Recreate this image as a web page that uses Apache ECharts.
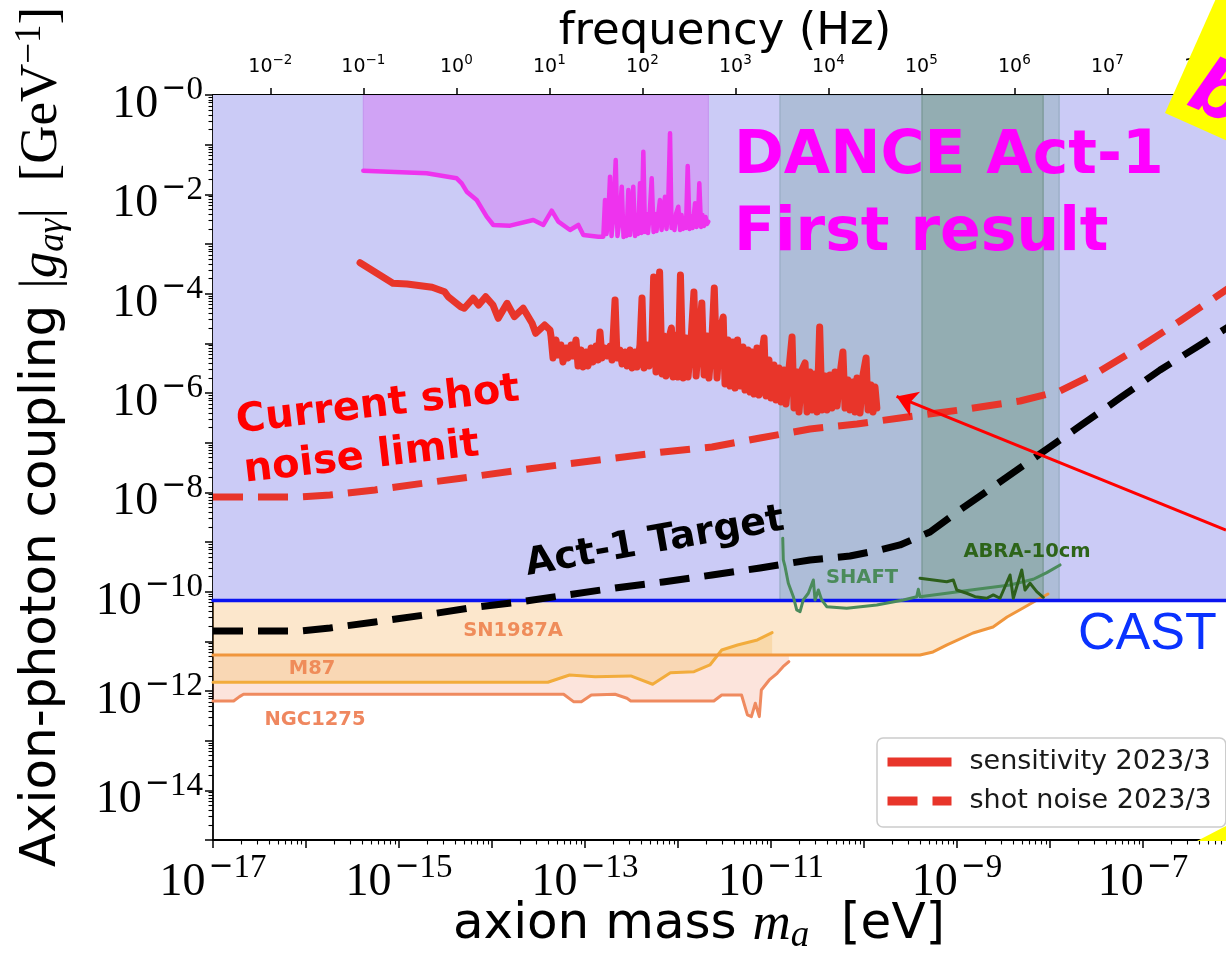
<!DOCTYPE html>
<html><head><meta charset="utf-8">
<script src="https://cdn.jsdelivr.net/npm/echarts@6/dist/echarts.min.js"></script>
<style>html,body{margin:0;padding:0;background:#fff}#c{width:1226px;height:956px}</style>
</head><body><div id="c"></div>
<script>
// ===== Data: log10(axion mass / eV) and log10(|g| / GeV^-1) =====
const X_MIN = -17, X_MAX = -6.108, Y_MIN = -15, Y_MAX = 0;
const LOG_HZ_PER_EV = 14.3835;            // log10(1 eV / h)
const freqTickExps = [-2,-1,0,1,2,3,4,5,6,7,8];

const danceLogMass = [-15.384,-14.702,-14.380,-14.326,-14.272,-14.165,-14.057,-13.986,-13.806,-13.556,-13.448,-13.358,-13.287,-13.161,-13.072,-13.018,
  -12.857,-12.803,-12.785,-12.769,-12.753,-12.731,-12.715,-12.699,-12.670,-12.651,-12.634,-12.605,-12.586,-12.570,-12.554,-12.534,-12.516,-12.500,-12.481,-12.462,
  -12.446,-12.430,-12.409,-12.392,-12.373,-12.355,-12.339,-12.323,-12.306,-12.283,-12.263,-12.247,-12.231,-12.215,-12.194,-12.177,-12.161,-12.140,-12.124,-12.108,
  -12.086,-12.070,-12.054,-12.038,-12.022,-11.997,-11.978,-11.962,-11.946,-11.930,-11.914,-11.896,-11.876,-11.860,-11.844,-11.817,-11.801,-11.785,-11.771,-11.753,
  -11.737,-11.720,-11.704,-11.688,-11.674];
const danceLogG = [-1.524,-1.576,-1.677,-1.778,-1.947,-2.114,-2.450,-2.617,-2.631,-2.517,-2.617,-2.329,-2.551,-2.718,-2.617,-2.819,
  -2.853,-2.853,-2.114,-2.798,-2.557,-1.645,-2.839,-2.517,-1.309,-2.839,-2.597,-1.846,-2.859,-2.476,-2.839,-1.913,-2.819,-2.436,-1.846,-2.839,
  -2.416,-2.798,-1.778,-2.778,-1.142,-2.758,-2.396,-2.778,-2.436,-1.677,-2.758,-2.396,-2.738,-2.436,-2.114,-2.718,-2.396,-2.048,-2.698,-2.376,
  -0.771,-2.678,-2.517,-2.718,-2.396,-2.249,-2.718,-2.416,-2.698,-2.476,-2.678,-1.429,-2.698,-2.436,-2.678,-2.180,-2.658,-2.476,-1.778,-2.658,
  -2.416,-2.637,-2.456,-2.597,-2.551];

const senseLogMass = [-15.419,-15.066,-14.913,-14.644,-14.510,-14.471,-14.337,-14.298,-14.202,-14.144,-14.068,-13.990,-13.933,-13.838,-13.760,-13.665,-13.569,-13.530,-13.434,-13.376,
  -13.366,-13.344,-13.312,-13.290,-13.258,-13.237,-13.204,-13.183,-13.151,-13.129,-13.097,-13.075,-13.043,-13.022,-12.989,-12.968,-12.935,-12.914,-12.882,-12.860,
  -12.839,-12.817,-12.785,-12.763,-12.731,-12.710,-12.677,-12.656,-12.624,-12.602,-12.570,-12.548,-12.516,-12.495,-12.462,-12.441,-12.409,-12.387,-12.366,-12.333,
  -12.312,-12.280,-12.262,-12.237,-12.198,-12.172,-12.151,-12.129,-12.097,-12.071,-12.054,-12.022,-12.000,-11.974,-11.946,-11.914,-11.892,-11.860,-11.829,-11.806,
  -11.774,-11.744,-11.720,-11.688,-11.667,-11.634,-11.610,-11.581,-11.548,-11.514,-11.495,-11.462,-11.441,-11.409,-11.387,-11.360,-11.333,-11.301,-11.280,-11.247,
  -11.226,-11.204,-11.183,-11.151,-11.129,-11.097,-11.075,-11.054,-11.022,-11.000,-10.968,-10.946,-10.914,-10.892,-10.860,-10.839,-10.806,-10.774,-10.753,-10.720,
  -10.699,-10.667,-10.634,-10.613,-10.581,-10.559,-10.527,-10.505,-10.477,-10.452,-10.419,-10.398,-10.366,-10.344,-10.312,-10.290,-10.258,-10.227,-10.204,-10.172,
  -10.151,-10.118,-10.097,-10.075,-10.043,-10.011,-9.978,-9.957,-9.925,-9.903,-9.882,-9.862];
const senseLogG = [-3.376,-3.791,-3.805,-3.872,-3.960,-4.061,-4.262,-4.294,-4.093,-4.228,-4.061,-4.228,-4.496,-4.194,-4.463,-4.294,-4.596,-4.798,-4.631,-4.731,
  -4.852,-5.295,-4.933,-5.235,-5.033,-5.375,-5.094,-5.295,-5.033,-5.255,-4.933,-5.456,-5.134,-5.476,-5.174,-5.456,-5.094,-5.375,-5.053,-5.335,
  -4.772,-5.295,-5.094,-5.255,-5.053,-5.335,-4.127,-5.295,-5.134,-5.416,-5.174,-5.456,-5.134,-5.496,-5.174,-5.476,-5.033,-4.087,-5.496,-5.033,
  -5.456,-4.933,-3.664,-5.577,-3.564,-5.617,-4.852,-5.657,-4.892,-4.691,-5.677,-4.832,-5.677,-3.624,-5.698,-4.892,-5.677,-4.933,-3.966,-5.657,
  -4.892,-4.188,-5.637,-4.852,-5.698,-4.852,-3.886,-5.698,-4.731,-4.470,-5.818,-4.933,-5.859,-4.973,-5.899,-4.933,-5.859,-5.073,-5.939,-5.134,
  -5.980,-5.174,-6.020,-5.094,-6.040,-5.174,-4.892,-6.060,-5.335,-6.100,-5.436,-6.141,-5.496,-6.181,-5.537,-6.221,-5.496,-4.872,-6.302,-5.577,
  -6.382,-5.537,-5.396,-6.382,-5.577,-6.342,-5.617,-6.382,-4.671,-6.342,-5.657,-6.342,-5.637,-6.302,-5.577,-6.261,-5.617,-5.174,-6.302,-5.738,
  -6.342,-5.778,-6.382,-5.698,-6.402,-5.637,-5.295,-6.342,-5.839,-6.382,-5.879,-6.302];

const shotLogMass = [-17,-16.065,-15.742,-15.258,-14.720,-14.237,-13.699,-13.194,-12.677,-12.161,-11.634,-11.118,-10.581,-10.075,-9.613,-8.968,-8.323,-7.892,-7.462,-7.032,-6.602,-6.108,-6.0];
const shotLogG = [-8.093,-8.093,-8.053,-7.952,-7.812,-7.691,-7.550,-7.429,-7.308,-7.187,-7.087,-6.906,-6.724,-6.624,-6.503,-6.342,-6.161,-5.959,-5.557,-5.073,-4.550,-3.926,-3.785];

const targetLogMass = [-17,-16.065,-15.742,-15.258,-14.720,-14.237,-13.699,-13.194,-12.677,-12.161,-11.634,-11.118,-10.581,-10.151,-9.828,-9.613,-9.290,-8.968,-8.538,-8.108,-7.677,-7.247,-6.817,-6.387,-6.0];
const targetLogG = [-10.791,-10.791,-10.731,-10.610,-10.469,-10.328,-10.207,-10.066,-9.926,-9.805,-9.664,-9.523,-9.362,-9.281,-9.161,-9.060,-8.798,-8.355,-7.791,-7.228,-6.664,-6.100,-5.537,-5.033,-4.570];

const castLogG = -10.18;

const sn1987aLogMass = [-17,-9.559,-9.398,-9.258,-9.108,-8.828,-8.613,-8.462,-8.290,-8.140,-8.022];
const sn1987aLogG = [-11.274,-11.274,-11.274,-11.214,-11.073,-10.832,-10.711,-10.509,-10.328,-10.167,-10.046];
const sn1987aFlatLogG = -11.274;

const m87LogMass = [-17,-13.400,-13.166,-12.892,-12.508,-12.273,-12.082,-11.828,-11.657,-11.530,-11.360,-11.147,-10.988];
const m87LogG = [-11.824,-11.824,-11.677,-11.711,-11.697,-11.864,-11.631,-11.611,-11.476,-11.174,-11.073,-10.972,-10.825];

const ngcLogMass = [-17,-16.778,-16.715,-16.672,-13.230,-13.124,-13.039,-12.932,-12.677,-12.549,-12.508,-11.615,-11.530,-11.317,-11.254,-11.211,-11.169,-11.126,-11.104,-11.019,-10.934,-10.871,-10.808];
const ngcLogG = [-12.200,-12.200,-12.114,-12.066,-12.066,-12.214,-12.214,-12.080,-12.066,-12.146,-12.200,-12.200,-12.080,-12.080,-12.482,-12.517,-12.247,-12.517,-11.979,-11.778,-11.643,-11.510,-11.409];

const shaftLogMass = [-10.874,-10.868,-10.849,-10.814,-10.760,-10.724,-10.688,-10.653,-10.599,-10.545,-10.527,-10.491,-10.455,-10.401,-10.186,-9.863,-9.577,-9.433,-9.416,-9.398,-9.111,-8.788,-8.430,-8.180,-8.035,-7.892];
const shaftLogG = [-8.925,-9.362,-9.497,-9.831,-10.101,-10.368,-10.403,-10.167,-10.032,-9.765,-10.167,-9.966,-10.167,-10.302,-10.334,-10.268,-10.167,-10.101,-9.952,-10.101,-10.032,-9.952,-9.865,-9.750,-9.617,-9.462];

const abraLogMass = [-9.398,-9.255,-9.111,-9.040,-9.003,-8.896,-8.806,-8.681,-8.610,-8.538,-8.430,-8.395,-8.304,-8.269,-8.215,-8.143,-8.072];
const abraLogG = [-9.730,-9.765,-9.799,-9.765,-9.966,-10.032,-10.101,-10.133,-10.066,-10.133,-9.664,-10.133,-9.563,-9.966,-9.831,-10.000,-10.113];

const shaftBandLogMass = [-10.903, -7.903];
const abraBandLogMass = [-9.376, -8.075];

const arrowFrom = [-6.108, -8.76];
const arrowTo = [-9.65, -6.07];

// ===== helpers =====
const pairs = (xs, ys) => xs.map((x, i) => [x, ys[i]]);
const minorOf = (k0, k1) => { const r = []; for (let k = k0; k <= k1; k++) for (let m = 2; m <= 9; m++) r.push(k + Math.log10(m)); return r; };

function polySeries(points, style) {
  return {
    type: 'custom', silent: true, clip: true, xAxisIndex: 0, yAxisIndex: 0,
    data: [[X_MIN, Y_MIN]],
    renderItem: (params, api) => ({
      type: 'polygon',
      shape: { points: points.map(p => api.coord(p)) },
      style: style
    })
  };
}
const between = (xs, ys, yConst) => pairs(xs, ys).concat(xs.slice().reverse().map(x => [x, yConst]));
const rectPts = (x0, x1, y0, y1) => [[x0, y0], [x1, y0], [x1, y1], [x0, y1]];

function lineSeries(xs, ys, color, width, extra) {
  return Object.assign({
    type: 'line', symbol: 'none', silent: true, clip: true, animation: false,
    xAxisIndex: 0, yAxisIndex: 0,
    data: pairs(xs, ys),
    lineStyle: { color: color, width: width, join: 'round', cap: 'round' }
  }, extra || {});
}

const tickRich = {
  b: { fontFamily: 'Liberation Serif', fontSize: 46, lineHeight: 54, verticalAlign: 'bottom', color: '#000' },
  m: { fontFamily: 'DejaVu Sans', fontSize: 30, lineHeight: 24, verticalAlign: 'top', color: '#000', padding: [0, 0, 0, 3] },
  s: { fontFamily: 'Liberation Serif', fontSize: 33, lineHeight: 24, verticalAlign: 'top', color: '#000' }
};
const topRich = {
  b: { fontFamily: 'DejaVu Sans', fontSize: 19, lineHeight: 24, verticalAlign: 'bottom', color: '#000' },
  s: { fontFamily: 'DejaVu Sans', fontSize: 13.5, lineHeight: 14, verticalAlign: 'top', color: '#000' }
};
const titleRich = {
  n: { fontFamily: 'DejaVu Sans', fontSize: 50, lineHeight: 60, color: '#000' },
  r: { fontFamily: 'Liberation Serif', fontSize: 53, lineHeight: 60, color: '#000' },
  i: { fontFamily: 'Liberation Serif', fontStyle: 'italic', fontSize: 53, lineHeight: 60, color: '#000' },
  sub: { fontFamily: 'Liberation Serif', fontStyle: 'italic', fontSize: 37, lineHeight: 24, verticalAlign: 'bottom', color: '#000' },
  sup: { fontFamily: 'Liberation Serif', fontSize: 37, lineHeight: 24, verticalAlign: 'top', color: '#000' }
};
const tickLabel = k => '{b|10}{m|\u2212}{s|' + Math.abs(k) + '}';

const axisBlack = { color: '#000', width: 1.8 };
const chart = echarts.init(document.getElementById('c'), null, { renderer: 'canvas' });
const RED = '#e8352a';

chart.setOption({
  animation: false,
  backgroundColor: '#ffffff',
  textStyle: { fontFamily: 'DejaVu Sans' },
  grid: { left: 213, top: 95, right: 0, bottom: 116, containLabel: false },
  xAxis: [
    { type: 'value', position: 'bottom', min: X_MIN, max: X_MAX, interval: 1,
      axisLine: { onZero: false, lineStyle: axisBlack },
      axisTick: { length: 8, lineStyle: { color: '#000', width: 1.5 } },
      splitLine: { show: false },
      axisLabel: { margin: 12, rich: tickRich, showMaxLabel: false,
        formatter: v => { const k = Math.round(v); return (Math.abs(v - k) < 1e-6 && (k - X_MIN) % 2 === 0) ? tickLabel(k) : ''; } } },
    { type: 'value', position: 'top', min: X_MIN + LOG_HZ_PER_EV, max: X_MAX + LOG_HZ_PER_EV,
      axisLine: { onZero: false, lineStyle: axisBlack },
      axisTick: { length: 7, customValues: freqTickExps, lineStyle: { color: '#000', width: 1.5 } },
      splitLine: { show: false },
      axisLabel: { margin: 18, customValues: freqTickExps, rich: topRich,
        formatter: v => { const k = Math.round(v); return '{b|10}{s|' + (k < 0 ? '\u2212' + (-k) : k) + '}'; } } },
    { type: 'value', position: 'bottom', min: X_MIN, max: X_MAX,
      axisLine: { show: false, onZero: false },
      axisTick: { length: 4.5, customValues: minorOf(-17, -7), lineStyle: { color: '#000', width: 1.1 } },
      axisLabel: { show: false }, splitLine: { show: false } }
  ],
  yAxis: [
    { type: 'value', position: 'left', min: Y_MIN, max: Y_MAX, interval: 1,
      axisLine: { onZero: false, lineStyle: axisBlack },
      axisTick: { length: 8, lineStyle: { color: '#000', width: 1.5 } },
      splitLine: { show: false },
      axisLabel: { margin: 10, rich: tickRich, padding: [12, 0, 0, 0],
        formatter: v => { const k = Math.round(v); return (k % 2 === 0) ? tickLabel(k) : ''; } } },
    { type: 'value', position: 'left', min: Y_MIN, max: Y_MAX,
      axisLine: { show: false, onZero: false },
      axisTick: { length: 4.5, customValues: minorOf(-15, -1), lineStyle: { color: '#000', width: 1.1 } },
      axisLabel: { show: false }, splitLine: { show: false } }
  ],
  legend: {
    data: ['sensitivity 2023/3', 'shot noise 2023/3'],
    orient: 'vertical', left: 877, top: 738,
    padding: [9, 14, 11, 6], itemGap: 9,
    itemWidth: 64, itemHeight: 14,
    backgroundColor: '#ffffff', borderColor: '#cccccc', borderWidth: 1.5, borderRadius: 6,
    itemStyle: { opacity: 0 },
    lineStyle: { width: 9, cap: 'butt' },
    textStyle: { fontFamily: 'DejaVu Sans', fontSize: 27, color: '#1a1a1a', lineHeight: 30, padding: [0, 0, 0, 13] }
  },
  series: [
    polySeries(between(ngcLogMass, ngcLogG, sn1987aFlatLogG), { fill: 'rgba(238,120,80,0.2)' }),
    polySeries(between(m87LogMass, m87LogG, sn1987aFlatLogG), { fill: 'rgba(240,175,60,0.25)' }),
    polySeries(between(sn1987aLogMass, sn1987aLogG, castLogG), { fill: 'rgba(245,175,85,0.3)' }),
    polySeries(rectPts(X_MIN, X_MAX, castLogG, Y_MAX), { fill: '#cbcbf6' }),
    polySeries(rectPts(shaftBandLogMass[0], shaftBandLogMass[1], castLogG, Y_MAX), { fill: '#aebdd8', stroke: '#9db0c9', lineWidth: 1.5 }),
    polySeries(rectPts(abraBandLogMass[0], abraBandLogMass[1], castLogG, Y_MAX), { fill: '#93adb2', stroke: '#7f9c9c', lineWidth: 1.5 }),
    polySeries([[danceLogMass[0], Y_MAX]].concat(pairs(danceLogMass, danceLogG), [[danceLogMass[danceLogMass.length - 1], Y_MAX]]),
      { fill: '#d0a3f5', stroke: '#c493ee', lineWidth: 1 }),
    lineSeries(ngcLogMass, ngcLogG, '#ef8a5f', 3),
    lineSeries(m87LogMass, m87LogG, '#f2ac3c', 3),
    lineSeries(sn1987aLogMass, sn1987aLogG, '#f0963c', 3),
    lineSeries([X_MIN, X_MAX], [castLogG, castLogG], '#0a14f0', 3.5),
    lineSeries(shaftLogMass, shaftLogG, '#4b8b5b', 3),
    lineSeries(abraLogMass, abraLogG, '#2d5f1a', 3),
    lineSeries(danceLogMass, danceLogG, '#ee33ee', 4.5),
    lineSeries(shotLogMass, shotLogG, RED, 7, { name: 'shot noise 2023/3',
      lineStyle: { color: RED, width: 7, type: [30, 15], cap: 'butt', join: 'round' } }),
    lineSeries(targetLogMass, targetLogG, '#000', 7, {
      lineStyle: { color: '#000', width: 7, type: [30, 15], cap: 'butt', join: 'round' } }),
    lineSeries(senseLogMass, senseLogG, RED, 7, { name: 'sensitivity 2023/3',
      markLine: { silent: true, animation: false, symbol: ['none', 'arrow'], symbolSize: 20,
        label: { show: false },
        lineStyle: { color: '#ff0000', width: 3, type: 'solid' },
        data: [[{ coord: arrowFrom }, { coord: arrowTo }]] } })
  ],
  graphic: [
    { type: 'text', x: 725, y: 32, z: 100, style: { text: 'frequency (Hz)', fontFamily: 'DejaVu Sans', fontSize: 45, fill: '#000', align: 'center', verticalAlign: 'middle' } },
    { type: 'text', x: 42, y: 437, rotation: Math.PI / 2, z: 100,
      style: { text: '{n|Axion-photon coupling }{r||}{i|g}{sub|a\u03b3}{r||}{r|  [GeV}{sup|\u22121}{r|]}', rich: titleRich, align: 'center', verticalAlign: 'middle' } },
    { type: 'text', x: 699, y: 925, z: 100,
      style: { text: '{n|axion mass }{i|m}{sub|a}{n|  [eV]}', rich: titleRich, align: 'center', verticalAlign: 'middle' } },
    { type: 'text', x: 734, y: 157, z: 100, style: { text: 'DANCE Act-1', fontFamily: 'DejaVu Sans', fontWeight: 'bold', fontSize: 60, fill: '#ff00ff', align: 'left', verticalAlign: 'middle' } },
    { type: 'text', x: 734, y: 234, z: 100, style: { text: 'First result', fontFamily: 'DejaVu Sans', fontWeight: 'bold', fontSize: 60, fill: '#ff00ff', align: 'left', verticalAlign: 'middle' } },
    { type: 'group', x: 238, y: 436, rotation: 6.5 * Math.PI / 180, z: 100, children: [
      { type: 'text', z: 100, style: { x: 0, y: -14, text: 'Current shot', fontFamily: 'DejaVu Sans', fontWeight: 'bold', fontSize: 40, fill: '#ff0000', align: 'left', verticalAlign: 'middle' } },
      { type: 'text', z: 100, style: { x: 2, y: 36, text: 'noise limit', fontFamily: 'DejaVu Sans', fontWeight: 'bold', fontSize: 40, fill: '#ff0000', align: 'left', verticalAlign: 'middle' } }
    ] },
    { type: 'group', x: 528, y: 578, rotation: 10 * Math.PI / 180, z: 100, children: [
      { type: 'text', z: 100, style: { x: 0, y: -13, text: 'Act-1 Target', fontFamily: 'DejaVu Sans', fontWeight: 'bold', fontSize: 38, fill: '#000', align: 'left', verticalAlign: 'middle' } }
    ] },
    { type: 'text', x: 1078, y: 635, z: 100, style: { text: 'CAST', fontFamily: 'Liberation Sans', fontSize: 52, fill: '#0a32ff', align: 'left', verticalAlign: 'middle' } },
    { type: 'text', x: 862, y: 578, z: 100, style: { text: 'SHAFT', fontFamily: 'DejaVu Sans', fontWeight: 'bold', fontSize: 19.5, fill: '#4b8b5b', align: 'center', verticalAlign: 'middle' } },
    { type: 'text', x: 1027, y: 552, z: 100, style: { text: 'ABRA-10cm', fontFamily: 'DejaVu Sans', fontWeight: 'bold', fontSize: 19.5, fill: '#2d6419', align: 'center', verticalAlign: 'middle' } },
    { type: 'text', x: 513, y: 631, z: 100, style: { text: 'SN1987A', fontFamily: 'DejaVu Sans', fontWeight: 'bold', fontSize: 19.5, fill: '#ef8c5a', align: 'center', verticalAlign: 'middle' } },
    { type: 'text', x: 312, y: 669, z: 100, style: { text: 'M87', fontFamily: 'DejaVu Sans', fontWeight: 'bold', fontSize: 19.5, fill: '#ef8c5a', align: 'center', verticalAlign: 'middle' } },
    { type: 'text', x: 315, y: 720, z: 100, style: { text: 'NGC1275', fontFamily: 'DejaVu Sans', fontWeight: 'bold', fontSize: 19.5, fill: '#ef875f', align: 'center', verticalAlign: 'middle' } },
    { type: 'group', x: 1165, y: 113, rotation: -24 * Math.PI / 180, z: 120, children: [
      { type: 'rect', z: 120, shape: { x: 0, y: -170, width: 240, height: 170 }, style: { fill: '#ffff00' } },
      { type: 'text', z: 121, style: { x: 14, y: 2, text: 'b', fontFamily: 'DejaVu Sans', fontStyle: 'italic', fontWeight: 'bold', fontSize: 76, fill: '#ff00ff', align: 'left', verticalAlign: 'bottom' } }
    ] },
    { type: 'polygon', z: 120, shape: { points: [[1197, 841], [1226, 826], [1226, 841]] }, style: { fill: '#ffff00' } }
  ]
});
</script>
</body></html>
